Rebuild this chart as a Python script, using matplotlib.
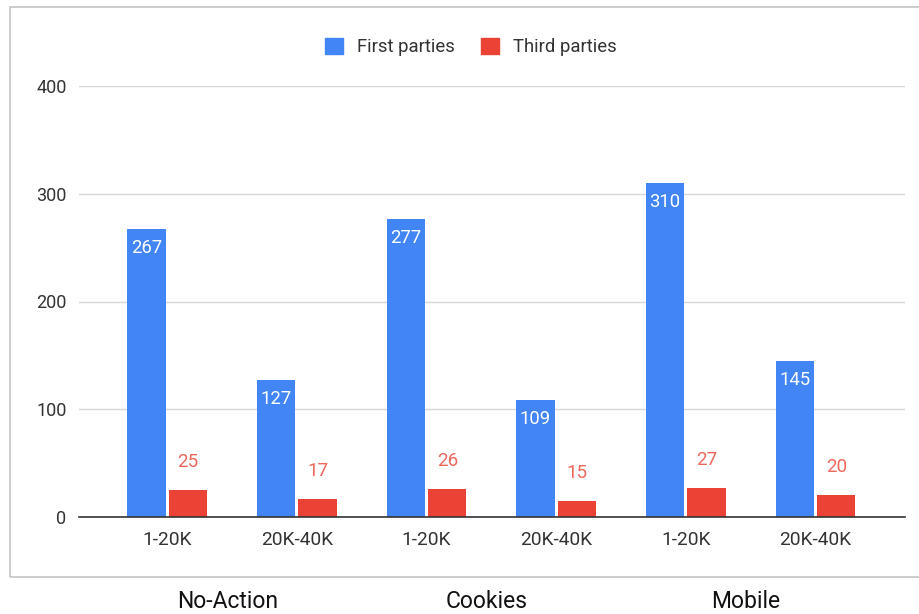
import matplotlib
matplotlib.use("Agg")
import matplotlib.pyplot as plt
from matplotlib.patches import Rectangle
import numpy as np

plt.rcParams['font.family'] = ['Roboto', 'DejaVu Sans']

# data
groups = ["No-Action", "Cookies", "Mobile"]
ranges = ["1-20K", "20K-40K", "1-20K", "20K-40K", "1-20K", "20K-40K"]
first_parties = [267, 127, 277, 109, 310, 145]
third_parties = [25, 17, 26, 15, 27, 20]

blue = "#4285F4"
red = "#EA4335"

fig = plt.figure(figsize=(9.19, 6.14), dpi=100)
ax = fig.add_axes([79/919, 1-517/614, (905-79)/919, (517-86)/614])

x = np.arange(len(ranges))
w = 0.295
off = 0.16
ax.bar(x - off, first_parties, w, color=blue, zorder=3)
ax.bar(x + off, third_parties, w, color=red, zorder=3)

# value labels: white inside the blue bars, red above the red ones
for xi, v in zip(x, first_parties):
    ax.annotate(str(v), (xi - off, v), xytext=(0, -19), textcoords="offset pixels",
                ha="center", va="center", color="white", fontsize=13.3, zorder=4)
for xi, v in zip(x, third_parties):
    ax.annotate(str(v), (xi + off, v), xytext=(0, 28), textcoords="offset pixels",
                ha="center", va="center", color="#EE675C", fontsize=13.5, zorder=4)

ax.set_xlim(-0.68, 5.69)
ax.set_ylim(0, 400)
ax.set_yticks([0, 100, 200, 300, 400])
ax.set_xticks(x)
ax.set_xticklabels(ranges)
ax.tick_params(axis="both", length=0, colors="#333333")
ax.tick_params(axis="x", pad=10, labelsize=13.8)
ax.tick_params(axis="y", pad=9, labelsize=13)
ax.grid(axis="y", color="#d6d6d6", linewidth=1, zorder=0)
for s in ["top", "right", "left"]:
    ax.spines[s].set_visible(False)
ax.spines["bottom"].set_color("#333333")
ax.spines["bottom"].set_linewidth(1.2)
ax.spines["bottom"].set_zorder(5)

# group names under the chart box
for i, g in enumerate(groups):
    xc = (x[2*i] + x[2*i + 1]) / 2 - 0.035
    px = ax.transData.transform((xc, 0))[0] / fig.bbox.width
    fig.text(px, 1 - 602/614, g, ha="center", va="center", fontsize=16.5, color="#111111")

# legend
h = [Rectangle((0, 0), 1, 1, color=blue), Rectangle((0, 0), 1, 1, color=red)]
fig.legend(h, ["First parties", "Third parties"], loc="center", bbox_to_anchor=(471/919, 1-47/614),
           ncol=2, frameon=False, fontsize=13.3, handlelength=1.0, handleheight=1.0,
           handletextpad=0.75, columnspacing=1.4, labelcolor="#333333")

# chart border
fig.patches.append(Rectangle((10/919, 1-577/614), 1.0, (577-7)/614, transform=fig.transFigure,
                             fill=False, edgecolor="#c4c4c4", linewidth=1.2, clip_on=False))

fig.savefig("out.png", dpi=100, facecolor="white")
